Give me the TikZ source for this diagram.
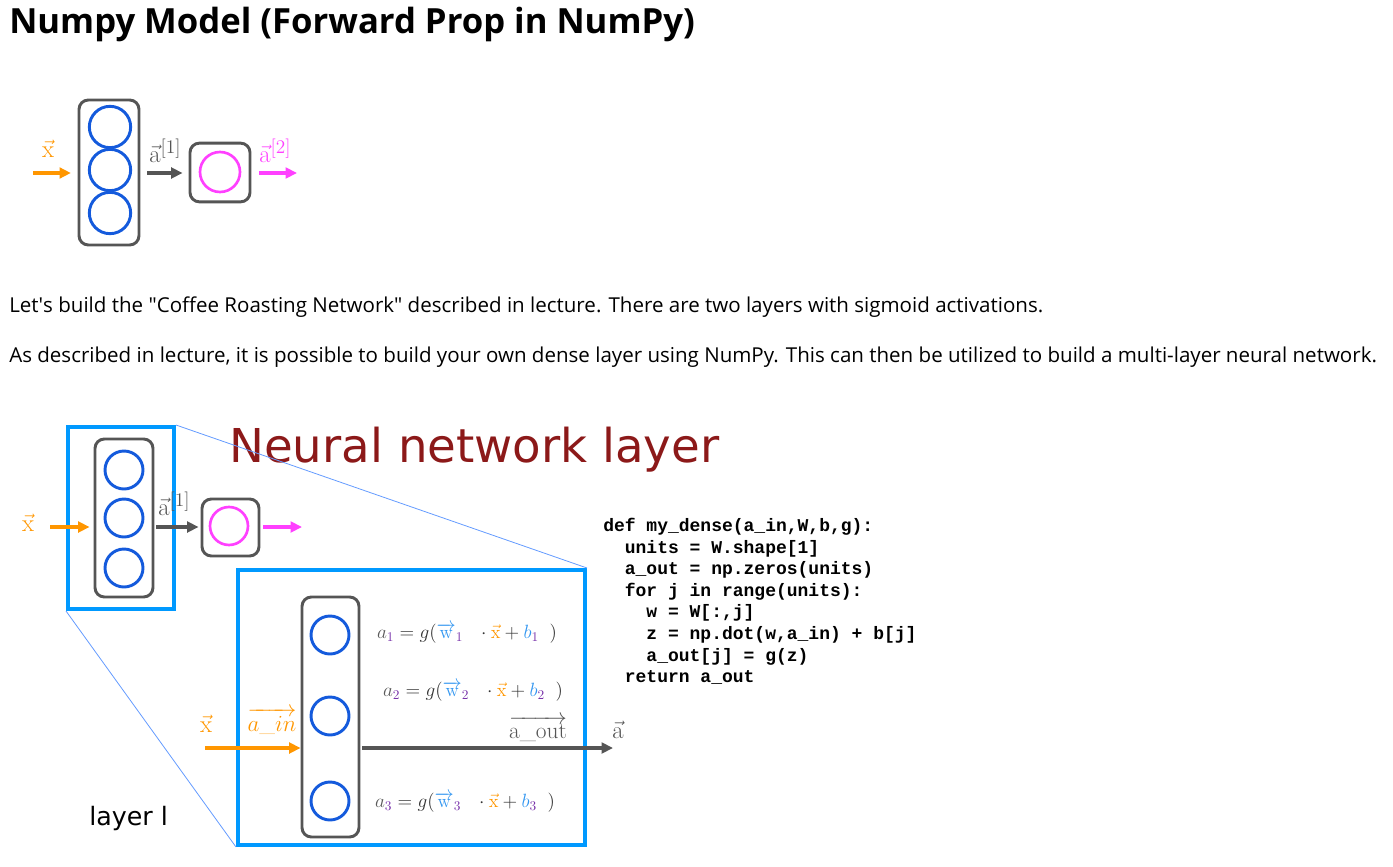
\documentclass[tikz,border=0pt]{standalone}
\usepackage{amsmath}
\usepackage{fontspec}
\newfontfamily\uifont{Open Sans}
\newfontfamily\slidefont{DejaVu Sans}
\newfontfamily\codefont{Liberation Mono}
\usetikzlibrary{positioning, calc, arrows.meta}

\definecolor{boxgray}{RGB}{85,85,85}
\definecolor{unitblue}{RGB}{20,90,220}
\definecolor{outmagenta}{RGB}{255,64,255}
\definecolor{inorange}{RGB}{255,150,0}
\definecolor{framblue}{RGB}{0,153,255}
\definecolor{zoomblue}{RGB}{100,155,255}
\definecolor{titlered}{RGB}{140,25,25}
\definecolor{wblue}{RGB}{50,150,240}
\definecolor{subpurple}{RGB}{120,50,170}
\definecolor{eqgray}{RGB}{90,90,90}

% one unit equation a_j = g(w_j . x + b_j)
\newcommand\unitEq[1]{$\textcolor{eqgray}{a}_{\textcolor{subpurple}{#1}}
  = g(\textcolor{wblue}{\overrightarrow{\mathrm{w}}}_{\textcolor{subpurple}{#1}}\;\;\,
  \cdot\textcolor{inorange}{\vec{\mathrm{x}}} + \textcolor{wblue}{b}_{\textcolor{subpurple}{#1}}\;\;)$}
% layer output label a^[k]
\newcommand\layerOut[1]{$\vec{\mathrm{a}}$\raisebox{6.5pt}{\fontsize{14.5}{14.5}\selectfont[#1]}}

\begin{document}
\begin{tikzpicture}[x=0.75pt, y=-0.75pt, >={Triangle[length=8.5pt,width=8pt]},
    layerbox/.style={draw=boxgray, line width=2.2pt, rounded corners=7pt, inner sep=0pt},
    unit/.style={circle, draw=unitblue, line width=2.2pt, minimum size=31pt, inner sep=0pt},
    outunit/.style={circle, draw=outmagenta, line width=2pt, minimum size=30pt, inner sep=0pt},
    frame/.style={draw=framblue, line width=3pt, inner sep=0pt},
    flow/.style={->, line width=2.4pt},
    veclabel/.style={font=\fontsize{18.5}{20}\selectfont, inner sep=0pt}]
    \useasboundingbox (0,0) rectangle (1393,867);

    % Heading and text
    \node[anchor=west, inner sep=0pt, font=\uifont\bfseries\fontsize{26}{30}\selectfont] (title) at (9,24) {Numpy Model (Forward Prop in NumPy)};
    \node[anchor=west, inner sep=0pt, font=\uifont\fontsize{15.4}{18}\selectfont] (intro) at (9,307) {Let\textquotesingle s build the "Coffee Roasting Network" described in lecture. There are two layers with sigmoid activations.};
    \node[anchor=west, inner sep=0pt, font=\uifont\fontsize{15.4}{18}\selectfont] (intro2) at (9,357) {As described in lecture, it is possible to build your own dense layer using NumPy. This can then be utilized to build a multi-layer neural network.};

    % Small model at the top
    \node[layerbox, minimum width=45pt, minimum height=108.75pt] (L1) at (109,172.5) {};
    \node[unit] (u1) at (110,127) {};
    \node[unit] (u2) at (110,170) {};
    \node[unit] (u3) at (110,213) {};
    \node[layerbox, minimum width=45pt, minimum height=44pt] (L2) at (220,172.5) {};
    \node[outunit] (v1) at (220,172) {};
    \coordinate (xin) at (33,173);
    \coordinate (aout) at (297,173);
    \draw[flow, inorange, shorten >=5pt] (xin) -- (L1.west |- xin);
    \draw[flow, boxgray, shorten <=5pt, shorten >=4.5pt] (L1.east |- xin) -- (L2.west |- xin);
    \draw[flow, outmagenta, shorten <=6pt] (L2.east |- aout) -- (aout);
    \node[veclabel, text=inorange] (xlab) at (48,149) {$\vec{\mathrm{x}}$};
    \node[veclabel, text=boxgray] (a1lab) at (165,151) {\layerOut{1}};
    \node[veclabel, text=outmagenta] (a2lab) at (275,151) {\layerOut{2}};

    % Slide: neural network layer
    \node[anchor=base west, inner sep=0pt, text=titlered, font=\slidefont\fontsize{35}{40}\selectfont] (slide) at (229,462) {Neural network layer};
    \node[frame, minimum width=79.5pt, minimum height=136.5pt] (Zs) at (121,518) {};
    \node[frame, minimum width=260.25pt, minimum height=206.25pt] (Zb) at (411.5,707.5) {};
    \draw[zoomblue, line width=0.6pt] (Zs.north east) -- (Zb.north east);
    \draw[zoomblue, line width=0.6pt] (Zs.south west) -- (Zb.south west);

    % network inside the small frame
    \node[layerbox, minimum width=43.5pt, minimum height=118.5pt] (S1) at (124,518) {};
    \node[unit, minimum size=28.5pt] (s1) at (124,470) {};
    \node[unit, minimum size=28.5pt] (s2) at (124,518) {};
    \node[unit, minimum size=28.5pt] (s3) at (124,568) {};
    \node[layerbox, minimum width=42.75pt, minimum height=42.75pt] (S2) at (230.5,527.5) {};
    \node[outunit, minimum size=28.5pt] (t1) at (229,526) {};
    \coordinate (sxin) at (50,527);
    \coordinate (sout) at (302,527);
    \draw[flow, inorange, shorten >=3pt] (sxin) -- (S1.west |- sxin);
    \draw[flow, boxgray, shorten <=1.5pt, shorten >=1.5pt] (S1.east |- sxin) -- (S2.west |- sxin);
    \draw[flow, outmagenta, shorten <=2pt] (S2.east |- sout) -- (sout);
    \node[veclabel, text=inorange] (sxlab) at (28,523) {$\vec{\mathrm{x}}$};
    \node[veclabel, text=boxgray] (sa1lab) at (174,504) {\layerOut{1}};

    % enlarged layer
    \node[layerbox, minimum width=42.75pt, minimum height=180pt] (B1) at (330.5,717) {};
    \node[unit, minimum size=28.5pt] (b1) at (330,635) {};
    \node[unit, minimum size=28.5pt] (b2) at (330,716) {};
    \node[unit, minimum size=28.5pt] (b3) at (330,801) {};
    \coordinate (bxin) at (205,748);
    \coordinate (bout) at (613,748);
    \draw[flow, inorange] (bxin) -- (B1.west |- bxin);
    \draw[flow, boxgray, shorten <=1.5pt] (B1.east |- bout) -- (bout);
    \node[veclabel, text=inorange] (bxlab) at (206,724) {$\vec{\mathrm{x}}$};
    \node[veclabel, text=inorange, font=\fontsize{17}{19}\selectfont] (ainlab) at (272,721) {$\overrightarrow{a\text{\_}in}$};
    \node[veclabel, text=boxgray, font=\fontsize{17.5}{19}\selectfont] (aoutlab) at (538,729) {$\overrightarrow{\mathrm{a\_out}}$};
    \node[veclabel, text=boxgray] (alab) at (618,730) {$\vec{\mathrm{a}}$};

    % unit equations
    \node[text=black!80, font=\fontsize{14}{16}\selectfont] (eq1) at (467,633) {\unitEq{1}};
    \node[text=black!80, font=\fontsize{14}{16}\selectfont] (eq2) at (473,691) {\unitEq{2}};
    \node[text=black!80, font=\fontsize{14}{16}\selectfont] (eq3) at (465,802) {\unitEq{3}};

    \node[anchor=west, inner sep=0pt, font=\slidefont\fontsize{19}{22}\selectfont] (layerl) at (89,819) {layer l};

    % code of the dense layer
    \node[anchor=north west, inner sep=0pt, align=left, font=\codefont\bfseries\fontsize{13.5}{16.2}\selectfont] (code) at (603,518) {def my\_dense(a\_in,W,b,g):\\
\ \ units = W.shape[1]\\
\ \ a\_out = np.zeros(units)\\
\ \ for j in range(units):\\
\ \ \ \ w = W[:,j]\\
\ \ \ \ z = np.dot(w,a\_in) + b[j]\\
\ \ \ \ a\_out[j] = g(z)\\
\ \ return a\_out};
\end{tikzpicture}
\end{document}
